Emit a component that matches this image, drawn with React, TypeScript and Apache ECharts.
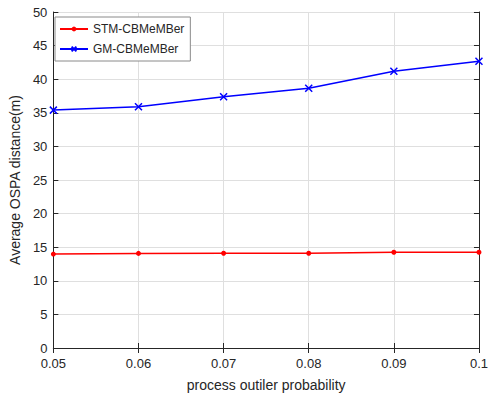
import React, { useEffect, useRef } from "react";
import * as echarts from "echarts";

// Outlier probability (x categories)
const probabilities = ["0.05", "0.06", "0.07", "0.08", "0.09", "0.1"];
// Average OSPA distance (m) per filter
const stmValues = [13.98, 14.08, 14.1, 14.1, 14.25, 14.25];
const gmValues = [35.4, 35.9, 37.4, 38.65, 41.17, 42.67];

const FONT = "'Liberation Sans', Arial, Helvetica, sans-serif";
const INK = "#262626";
const CROSS = "path://M0,0L10,10M10,0L0,10";

export default function App() {
  const ref = useRef<HTMLDivElement>(null);

  useEffect(() => {
    if (!ref.current) return;
    const chart = echarts.init(ref.current, undefined, { renderer: "svg" });
    const tickStyle = { inside: true, length: 5, lineStyle: { color: INK, width: 1 } };
    const lineStyle = { color: INK, width: 1 };
    chart.setOption({
      animation: false,
      backgroundColor: "#ffffff",
      textStyle: { fontFamily: FONT },
      grid: { left: 49, right: 8, top: 12, bottom: 44, containLabel: false },
      legend: {
        left: 55,
        top: 17,
        orient: "vertical",
        itemWidth: 28,
        itemHeight: 6,
        itemGap: 8,
        padding: [6, 6, 6, 4],
        backgroundColor: "#ffffff",
        borderColor: "#8a8a8a",
        borderWidth: 1,
        textStyle: { fontFamily: FONT, fontSize: 12, color: INK },
        data: ["STM-CBMeMBer", "GM-CBMeMBer"],
      },
      xAxis: [
        {
          type: "category",
          data: probabilities,
          boundaryGap: false,
          axisLine: { lineStyle },
          axisTick: { ...tickStyle, alignWithLabel: true },
          axisLabel: { color: INK, fontSize: 13, fontFamily: FONT, margin: 9 },
          splitLine: { show: true, lineStyle: { color: "#dfdfdf", width: 1 } },
          name: "process outiler probability",
          nameLocation: "middle",
          nameGap: 30,
          nameTextStyle: { color: INK, fontSize: 14, fontFamily: FONT },
        },
        {
          type: "category",
          data: probabilities,
          boundaryGap: false,
          position: "top",
          axisLine: { lineStyle },
          axisTick: tickStyle,
          axisLabel: { show: false },
          splitLine: { show: false },
        },
      ],
      yAxis: [
        {
          type: "value",
          min: 0,
          max: 50,
          interval: 5,
          axisLine: { show: true, lineStyle },
          axisTick: { show: true, ...tickStyle },
          axisLabel: { color: INK, fontSize: 13, fontFamily: FONT, margin: 6 },
          splitLine: { show: true, lineStyle: { color: "#dfdfdf", width: 1 } },
          name: "Average OSPA distance(m)",
          nameLocation: "middle",
          nameGap: 27,
          nameTextStyle: { color: INK, fontSize: 14, fontFamily: FONT },
        },
        {
          type: "value",
          min: 0,
          max: 50,
          interval: 5,
          position: "right",
          axisLine: { show: true, lineStyle },
          axisTick: { show: true, ...tickStyle },
          axisLabel: { show: false },
          splitLine: { show: false },
        },
      ],
      series: [
        {
          name: "STM-CBMeMBer",
          type: "line",
          data: stmValues,
          symbol: "circle",
          symbolSize: 5,
          lineStyle: { color: "#ff0000", width: 1.5 },
          itemStyle: { color: "#ff0000" },
        },
        {
          name: "GM-CBMeMBer",
          type: "line",
          data: gmValues,
          symbol: CROSS,
          symbolSize: 7,
          lineStyle: { color: "#0000ff", width: 1.5 },
          itemStyle: { color: "#0000ff", borderColor: "#0000ff", borderWidth: 1.5 },
        },
      ],
    });
    return () => chart.dispose();
  }, []);

  return <div ref={ref} style={{ width: 491, height: 397, position: "absolute", left: 0, top: 0 }} />;
}
